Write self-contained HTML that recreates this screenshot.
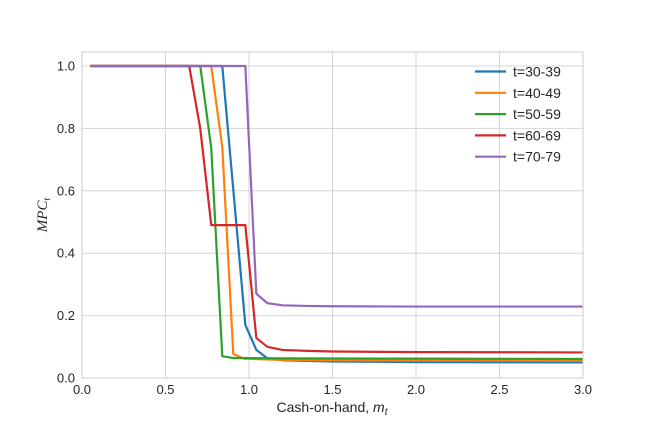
<!DOCTYPE html>
<html><head><meta charset="utf-8"><style>
body{margin:0;background:#fff}
svg text{font-family:"Liberation Sans",sans-serif;fill:#262626}
</style></head><body>
<svg id="chart" width="648" height="432" xmlns="http://www.w3.org/2000/svg">
<rect width="648" height="432" fill="#fff"/>
<g id="grid"></g>
<g id="series"></g>
<rect x="82" y="52" width="501" height="326" fill="none" stroke="#cccccc" stroke-width="1"/>
<g id="ticks"></g>
<text x="332" y="412" font-size="14" text-anchor="middle">Cash-on-hand, <tspan font-style="italic">m</tspan><tspan font-style="italic" font-size="10" dy="3">t</tspan></text>
<text transform="translate(47,215) rotate(-90)" font-size="15" text-anchor="middle" font-style="italic" style="font-family:'Liberation Serif',serif">MPC<tspan font-size="10" dy="3">t</tspan></text>
<g id="legend"></g>
</svg>
<script>
const xTicks=[0,0.5,1.0,1.5,2.0,2.5,3.0];
const yTicks=[0,0.2,0.4,0.6,0.8,1.0];
const labels=["t=30-39","t=40-49","t=50-59","t=60-69","t=70-79"];
const colors=["#1f77b4","#ff7f0e","#2ca02c","#d62728","#9467bd"];
const s1x=[0.05,0.84,0.978,1.044,1.11,1.2,1.5,2.0,3.0];
const s1y=[1.0,1.0,0.17,0.09,0.063,0.057,0.053,0.051,0.05];
const s2x=[0.05,0.774,0.84,0.906,0.97,1.2,1.5,2.0,3.0];
const s2y=[1.0,1.0,0.74,0.077,0.062,0.058,0.057,0.056,0.055];
const s3x=[0.05,0.708,0.774,0.84,0.906,1.2,2.0,3.0];
const s3y=[1.0,1.0,0.737,0.07,0.064,0.063,0.062,0.061];
const s4x=[0.05,0.642,0.708,0.774,0.978,1.044,1.11,1.2,1.35,1.5,2.0,3.0];
const s4y=[1.0,1.0,0.8,0.49,0.49,0.128,0.10,0.09,0.087,0.085,0.083,0.082];
const s5x=[0.05,0.978,1.044,1.11,1.2,1.35,1.5,2.0,3.0];
const s5y=[1.0,1.0,0.27,0.24,0.233,0.231,0.23,0.229,0.229];
const xs=[s1x,s2x,s3x,s4x,s5x], ys=[s1y,s2y,s3y,s4y,s5y];
const X=v=>82+v*167, Y=v=>378-v*312;
const NS="http://www.w3.org/2000/svg";
function mk(t,a,p){const e=document.createElementNS(NS,t);for(const k in a)e.setAttribute(k,a[k]);p.appendChild(e);return e;}
const grid=document.getElementById('grid'),ticks=document.getElementById('ticks'),ser=document.getElementById('series'),leg=document.getElementById('legend');
xTicks.forEach(v=>{
 const l=mk('line',{x1:X(v),x2:X(v),y1:52,y2:378,stroke:'#d5d5d5','stroke-width':1},grid);
 
 
 const t=mk('text',{x:X(v),y:394,'font-size':13,'text-anchor':'middle'},ticks);t.textContent=v.toFixed(1);
 
 
});
yTicks.forEach(v=>{
 const l=mk('line',{x1:82,x2:583,y1:Y(v),y2:Y(v),stroke:'#d5d5d5','stroke-width':1},grid);
 
 
 const t=mk('text',{x:75,y:Y(v)+4.5,'font-size':13,'text-anchor':'end'},ticks);t.textContent=v.toFixed(1);
 
 
});
xs.forEach((sx,i)=>{
 const pts=sx.map((v,j)=>X(v)+','+Y(ys[i][j])).join(' ');
 const p=mk('polyline',{points:pts,fill:'none',stroke:colors[i],'stroke-width':2.2,'stroke-linejoin':'round'},ser);
 
 
 const y=71.5+i*21.3;
 const l=mk('line',{x1:475,x2:506,y1:y,y2:y,stroke:colors[i],'stroke-width':2.2},leg);
 
 
 const t=mk('text',{x:513,y:y+5,'font-size':14},leg);t.textContent=labels[i];
 
 
});
</script>
</body></html>
